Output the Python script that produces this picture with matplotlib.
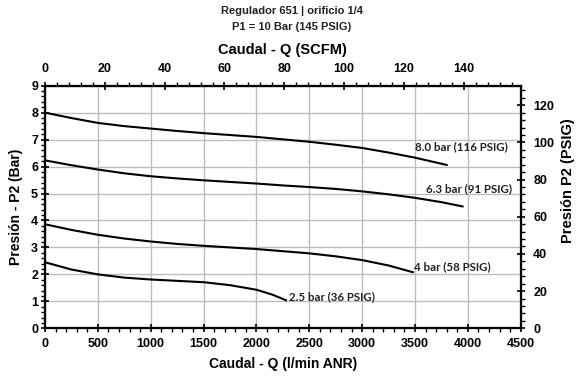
import numpy as np
import matplotlib.pyplot as plt
from matplotlib.ticker import MultipleLocator

# Datos (caudal l/min ANR, presion bar)
q_80 = [0, 250, 500, 750, 1000, 1250, 1500, 1750, 2000, 2250, 2500, 2750, 3000, 3250, 3500, 3800]
p_80 = [8.0, 7.8, 7.62, 7.5, 7.41, 7.32, 7.24, 7.17, 7.1, 7.01, 6.92, 6.81, 6.69, 6.52, 6.33, 6.06]

q_63 = [0, 250, 500, 750, 1000, 1250, 1500, 1750, 2000, 2250, 2500, 2750, 3000, 3250, 3500, 3750, 3950]
p_63 = [6.23, 6.05, 5.89, 5.75, 5.64, 5.56, 5.49, 5.43, 5.37, 5.3, 5.24, 5.17, 5.08, 4.97, 4.84, 4.68, 4.52]

q_40 = [0, 250, 500, 750, 1000, 1250, 1500, 1750, 2000, 2250, 2500, 2750, 3000, 3250, 3480]
p_40 = [3.86, 3.65, 3.47, 3.33, 3.22, 3.13, 3.06, 3.0, 2.94, 2.86, 2.78, 2.67, 2.53, 2.33, 2.08]

q_25 = [0, 250, 500, 750, 1000, 1250, 1500, 1750, 2000, 2150, 2280]
p_25 = [2.45, 2.18, 2.0, 1.88, 1.81, 1.76, 1.71, 1.6, 1.43, 1.25, 1.04]

etiquetas = ["8.0 bar (116 PSIG)", "6.3 bar (91 PSIG)", "4 bar (58 PSIG)", "2.5 bar (36 PSIG)"]
pos_etiq = [(3500, 6.72), (3600, 5.18), (3490, 2.27), (2310, 1.19)]

SCFM = 28.3   # l/min por SCFM
PSI = 14.5    # psi por bar

fig = plt.figure(figsize=(5.84, 3.78), dpi=100)
ax = fig.add_axes([0.077, 0.1315, 0.8146, 0.6418])

for q, p in [(q_80, p_80), (q_63, p_63), (q_40, p_40), (q_25, p_25)]:
    ax.plot(q, p, color='black', linewidth=1.5, zorder=3, solid_joinstyle='round')

for txt, (x, y) in zip(etiquetas, pos_etiq):
    ax.text(x, y, txt, fontsize=8.3, fontweight='bold', family=['Lato', 'DejaVu Sans'],
            color='#222222', va='center', ha='left')

ax.set_xlim(0, 4500)
ax.set_ylim(0, 9)
ax.xaxis.set_major_locator(MultipleLocator(500))
ax.xaxis.set_minor_locator(MultipleLocator(100))
ax.yaxis.set_major_locator(MultipleLocator(1))
ax.yaxis.set_minor_locator(MultipleLocator(0.2))
ax.grid(True, which='major', color='#bdbdbd', linewidth=1)
ax.set_axisbelow(True)

fuente = ['Liberation Sans', 'DejaVu Sans']
ax.set_xlabel("Caudal - Q (l/min ANR)", fontsize=10, fontweight='bold', family=fuente, labelpad=5)
ax.set_ylabel("Presión - P2 (Bar)", fontsize=10, fontweight='bold', family=fuente, labelpad=6)

# eje superior SCFM
ax2 = ax.twiny()
ax2.set_xlim(0, 4500 / SCFM)
ax2.xaxis.set_minor_locator(MultipleLocator(4))
ax2.set_xticks(np.arange(0, 141, 20))
ax2.set_xlabel("Caudal - Q (SCFM)", fontsize=10.5, fontweight='bold', family=fuente, labelpad=6)

# eje derecho PSIG
ax3 = ax.twinx()
ax3.set_ylim(0, 9 * PSI)
ax3.yaxis.set_major_locator(MultipleLocator(20))
ax3.yaxis.set_minor_locator(MultipleLocator(4))
ax3.set_ylabel("Presión P2 (PSIG)", fontsize=10.5, fontweight='bold', family=fuente)
ax3.yaxis.set_label_coords(1.085, 0.61)

for a in (ax, ax2, ax3):
    a.tick_params(which='major', direction='inout', length=6, width=1.2, labelsize=9, pad=2)
    a.tick_params(which='minor', direction='out', length=3, width=1)
    for lab in a.get_xticklabels() + a.get_yticklabels():
        lab.set_fontweight('bold')
        lab.set_family(fuente)
    for s in a.spines.values():
        s.set_linewidth(1.5)

ax.tick_params(axis='x', pad=4)
ax2.tick_params(axis='x', pad=5)
ax3.tick_params(axis='y', pad=6)

fig.text(0.5, 0.972, "Regulador 651 | orificio 1/4", ha='center', va='center', fontsize=8,
         fontweight='bold', family=['Liberation Sans Narrow', 'Liberation Sans'], color='#222222')
fig.text(0.5, 0.928, "P1 = 10 Bar (145 PSIG)", ha='center', va='center', fontsize=8,
         fontweight='bold', family=['Liberation Sans Narrow', 'Liberation Sans'], color='#222222')

fig.savefig("out.png", dpi=100)
plt.close(fig)
